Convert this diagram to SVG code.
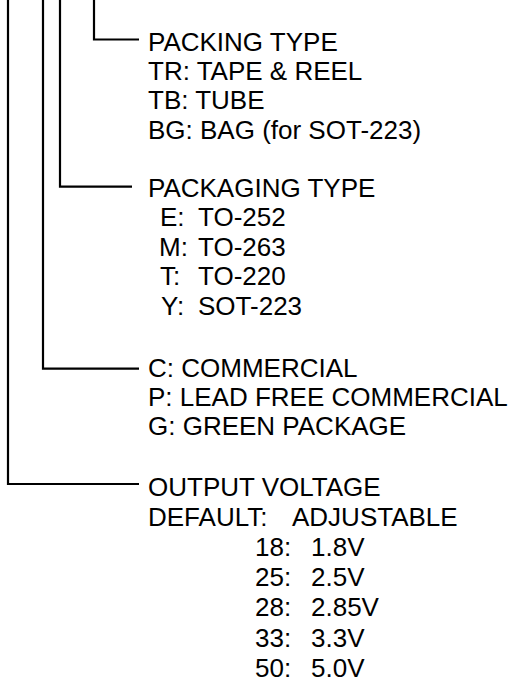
<svg xmlns="http://www.w3.org/2000/svg" width="516" height="681" viewBox="0 0 516 681">
<style>
.ln{fill:none;stroke:#000;stroke-width:2.2}
text{font-family:"Liberation Sans",Arial,sans-serif;font-size:26px;fill:#000}
</style>
<rect width="516" height="681" fill="#fff"/>
<g id="connectors">
<polyline class="ln" points="94,0 94,39.5 139,39.5"/>
<polyline class="ln" points="60,0 60,186.7 132,186.7"/>
<polyline class="ln" points="43,0 43,368.7 139,368.7"/>
<polyline class="ln" points="8,0 8,484 139,484"/>
</g>
<g id="packing">
<text x="148" y="50.7">PACKING TYPE</text>
<text x="148" y="80">TR: TAPE &amp; REEL</text>
<text x="148" y="109.3">TB: TUBE</text>
<text x="148" y="138.5">BG: BAG (for SOT-223)</text>
</g>
<g id="packaging">
<text x="148" y="196.7">PACKAGING TYPE</text>
<text y="226.4"><tspan x="160">E:</tspan><tspan x="198">TO-252</tspan></text>
<text y="255.8"><tspan x="159">M:</tspan><tspan x="198">TO-263</tspan></text>
<text y="285.2"><tspan x="160">T:</tspan><tspan x="198">TO-220</tspan></text>
<text y="314.6"><tspan x="161">Y:</tspan><tspan x="198">SOT-223</tspan></text>
</g>
<g id="grade">
<text x="148" y="376.7">C: COMMERCIAL</text>
<text x="148" y="406">P: LEAD FREE COMMERCIAL</text>
<text x="148" y="435.3">G: GREEN PACKAGE</text>
</g>
<g id="voltage">
<text x="148" y="496">OUTPUT VOLTAGE</text>
<text y="525.5"><tspan x="148">DEFAULT:</tspan><tspan x="292">ADJUSTABLE</tspan></text>
<text y="555.5"><tspan x="255">18:</tspan><tspan x="311">1.8V</tspan></text>
<text y="585.8"><tspan x="255">25:</tspan><tspan x="311">2.5V</tspan></text>
<text y="616"><tspan x="255">28:</tspan><tspan x="311">2.85V</tspan></text>
<text y="646.5"><tspan x="255">33:</tspan><tspan x="311">3.3V</tspan></text>
<text y="676.8"><tspan x="255">50:</tspan><tspan x="311">5.0V</tspan></text>
</g>
</svg>
